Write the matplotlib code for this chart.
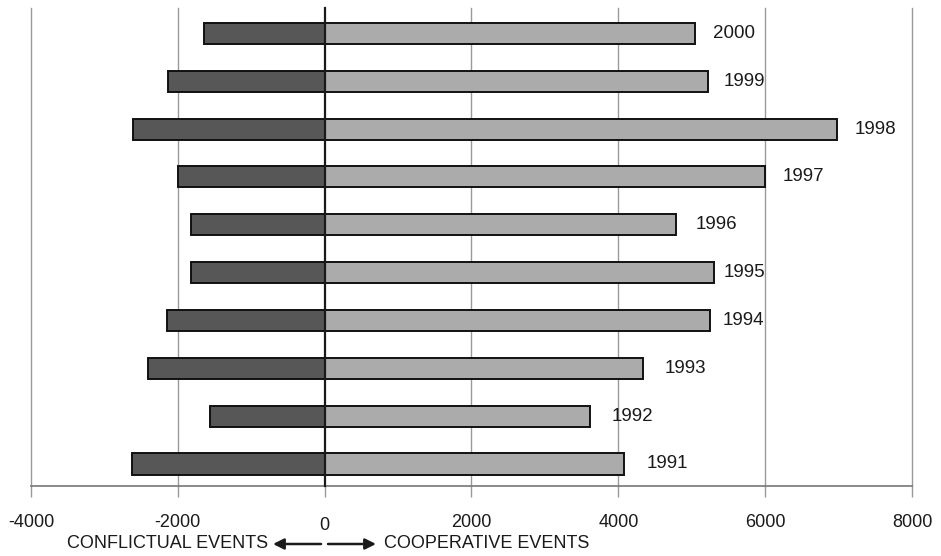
import matplotlib.pyplot as plt
import matplotlib.transforms as mtransforms

plt.rcParams['font.family'] = ['Liberation Sans', 'DejaVu Sans']

# Data
years = ['1991', '1992', '1993', '1994', '1995', '1996', '1997', '1998', '1999', '2000']
conflictual = [-2630, -1560, -2400, -2150, -1815, -1815, -2000, -2610, -2130, -1640]
cooperative = [4080, 3620, 4340, 5255, 5300, 4790, 5995, 6985, 5225, 5050]
xticks = [-4000, -2000, 0, 2000, 4000, 6000, 8000]

# label offsets (points) to the right of the cooperative bars
label_pad = [16, 15, 15, 9, 7, 14, 13, 12, 11, 13]

fig = plt.figure(figsize=(9.41, 5.56), dpi=100)
ax = fig.add_axes([31 / 941, 1 - 486 / 556, (912 - 31) / 941, (486 - 8) / 556])

ypos = list(range(len(years)))
bar_h = 0.44
ax.barh(ypos, conflictual, height=bar_h, color='#575757', edgecolor='#111111',
        linewidth=1.4, zorder=3)
ax.barh(ypos, cooperative, height=bar_h, color='#ababab', edgecolor='#111111',
        linewidth=1.4, zorder=3)

for y, val, yr, pad in zip(ypos, cooperative, years, label_pad):
    ax.annotate(yr, xy=(val, y), xytext=(pad, 0), textcoords='offset points',
                ha='left', va='center', fontsize=13.5, color='#1a1a1a')

ax.set_xlim(-4000, 8000)
ax.set_ylim(-0.46, 9.53)
ax.set_xticks(xticks)
ax.set_xticklabels([str(t) for t in xticks], fontsize=13, color='#1a1a1a')
ax.set_yticks([])

# vertical grid lines (including frame edges)
for t in xticks:
    if t == 0:
        continue
    ax.axvline(t, color='#9a9a9a', linewidth=1.0, zorder=1, clip_on=False)
ax.axvline(0, color='#1a1a1a', linewidth=1.6, zorder=4, clip_on=False)

for side in ['top', 'right', 'left']:
    ax.spines[side].set_visible(False)
ax.spines['bottom'].set_color('#777777')
ax.spines['bottom'].set_linewidth(1.2)
ax.tick_params(axis='x', direction='out', length=8, width=1.0, color='#9a9a9a', pad=12)

# zero tick sits a touch lower in the original
offset = mtransforms.ScaledTranslation(0, -2 / 72, fig.dpi_scale_trans)
lbl = ax.get_xticklabels()[2]
lbl.set_transform(lbl.get_transform() + offset)

# bottom caption with arrows
fig.text(268 / 941, 1 - 544 / 556, 'CONFLICTUAL EVENTS', ha='right', va='center',
         fontsize=13, color='#1a1a1a')
fig.text(384 / 941, 1 - 544 / 556, 'COOPERATIVE EVENTS', ha='left', va='center',
         fontsize=13, color='#1a1a1a')
fig.add_artist(plt.Annotation('', xy=(273 / 941, 1 - 544 / 556), xytext=(321 / 941, 1 - 544 / 556),
                              xycoords='figure fraction', textcoords='figure fraction',
                              arrowprops=dict(arrowstyle='-|>', color='#1a1a1a', lw=1.8,
                                              mutation_scale=16, shrinkA=0, shrinkB=0)))
fig.add_artist(plt.Annotation('', xy=(376 / 941, 1 - 544 / 556), xytext=(328 / 941, 1 - 544 / 556),
                              xycoords='figure fraction', textcoords='figure fraction',
                              arrowprops=dict(arrowstyle='-|>', color='#1a1a1a', lw=1.8,
                                              mutation_scale=16, shrinkA=0, shrinkB=0)))

plt.savefig('out.png', dpi=100)
